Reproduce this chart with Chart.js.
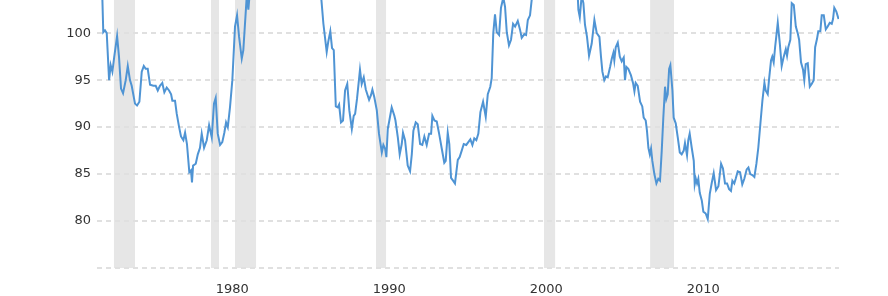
<!DOCTYPE html>
<html>
<head>
<meta charset="utf-8">
<script src="https://cdn.jsdelivr.net/npm/chart.js@4.4.1/dist/chart.umd.min.js"></script>
<style>
  html, body { margin: 0; padding: 0; background: #fff; }
  #wrap { width: 888px; height: 296px; }
</style>
</head>
<body>
<div id="wrap"><canvas id="chart" width="888" height="296"></canvas></div>
<script>
// index values (values above ~103.5 are cut by the top edge)
var years = [
  1971.70, 1971.78, 1971.89, 1972.00, 1972.15, 1972.25, 1972.36, 1972.48, 1972.66, 1972.78,
  1972.91, 1973.04, 1973.21, 1973.34, 1973.48, 1973.59, 1973.80, 1973.93, 1974.08, 1974.23,
  1974.36, 1974.48, 1974.61, 1974.76, 1974.97, 1975.12, 1975.25, 1975.39, 1975.54, 1975.67,
  1975.82, 1975.97, 1976.10, 1976.18, 1976.35, 1976.46, 1976.61, 1976.73, 1976.88, 1976.99,
  1977.11, 1977.26, 1977.37, 1977.43, 1977.50, 1977.67, 1977.80, 1977.94, 1978.05, 1978.20,
  1978.37, 1978.52, 1978.69, 1978.83, 1978.94, 1979.07, 1979.22, 1979.36, 1979.49, 1979.60,
  1979.71, 1979.85, 1980.00, 1980.17, 1980.30, 1980.43, 1980.60, 1980.70, 1980.92, 1981.02,
  1981.12, 1982.00, 1983.50, 1985.00, 1985.65, 1985.80, 1986.01, 1986.11, 1986.24, 1986.35,
  1986.46, 1986.59, 1986.71, 1986.80, 1986.92, 1987.05, 1987.18, 1987.32, 1987.45, 1987.61,
  1987.73, 1987.82, 1987.94, 1988.13, 1988.24, 1988.37, 1988.50, 1988.71, 1988.83, 1988.92,
  1989.04, 1989.20, 1989.34, 1989.52, 1989.62, 1989.73, 1989.81, 1989.90, 1990.00, 1990.15,
  1990.32, 1990.39, 1990.54, 1990.66, 1990.79, 1990.87, 1991.00, 1991.17, 1991.32, 1991.43,
  1991.53, 1991.68, 1991.81, 1991.96, 1992.10, 1992.23, 1992.38, 1992.53, 1992.66, 1992.74,
  1992.87, 1993.02, 1993.17, 1993.34, 1993.50, 1993.59, 1993.72, 1993.82, 1993.93, 1994.06,
  1994.18, 1994.36, 1994.48, 1994.61, 1994.74, 1994.90, 1995.03, 1995.16, 1995.29, 1995.41,
  1995.54, 1995.67, 1995.80, 1995.97, 1996.14, 1996.27, 1996.43, 1996.52, 1996.62, 1996.73,
  1996.84, 1996.99, 1997.11, 1997.26, 1997.37, 1997.48, 1997.62, 1997.75, 1997.88, 1998.01,
  1998.18, 1998.32, 1998.43, 1998.60, 1998.71, 1998.82, 1998.96, 1999.07, 1999.60, 2000.50,
  2001.50, 2002.00, 2002.04, 2002.13, 2002.25, 2002.36, 2002.46, 2002.59, 2002.72, 2002.89,
  2003.06, 2003.21, 2003.38, 2003.48, 2003.57, 2003.69, 2003.80, 2003.91, 2004.06, 2004.17,
  2004.27, 2004.33, 2004.42, 2004.55, 2004.68, 2004.80, 2004.93, 2005.01, 2005.10, 2005.22,
  2005.39, 2005.52, 2005.61, 2005.69, 2005.82, 2005.97, 2006.11, 2006.20, 2006.33, 2006.41,
  2006.50, 2006.59, 2006.67, 2006.75, 2006.88, 2007.01, 2007.13, 2007.24, 2007.35, 2007.45,
  2007.56, 2007.64, 2007.73, 2007.82, 2007.90, 2008.03, 2008.11, 2008.24, 2008.37, 2008.50,
  2008.62, 2008.75, 2008.83, 2008.96, 2009.04, 2009.13, 2009.26, 2009.39, 2009.45, 2009.52,
  2009.60, 2009.68, 2009.77, 2009.90, 2010.00, 2010.15, 2010.28, 2010.41, 2010.54, 2010.66,
  2010.81, 2010.96, 2011.13, 2011.25, 2011.38, 2011.51, 2011.64, 2011.76, 2011.85, 2011.97,
  2012.06, 2012.19, 2012.34, 2012.48, 2012.61, 2012.76, 2012.87, 2012.99, 2013.12, 2013.25,
  2013.38, 2013.50, 2013.63, 2013.76, 2013.89, 2013.97, 2014.10, 2014.18, 2014.31, 2014.39,
  2014.48, 2014.57, 2014.65, 2014.74, 2014.87, 2014.99, 2015.12, 2015.25, 2015.33, 2015.41,
  2015.54, 2015.63, 2015.76, 2015.89, 2016.01, 2016.10, 2016.22, 2016.35, 2016.43, 2016.52,
  2016.65, 2016.78, 2016.90, 2017.03, 2017.12, 2017.24, 2017.32, 2017.45, 2017.54, 2017.67,
  2017.80, 2017.92, 2018.05, 2018.18, 2018.26, 2018.34, 2018.47, 2018.61
];
var values = [
  105.0, 100.1, 100.3, 100.0, 95.0, 96.6, 95.9, 97.5, 99.7, 97.5,
  94.1, 93.6, 95.0, 96.5, 95.0, 94.4, 92.5, 92.3, 92.7, 95.9,
  96.5, 96.2, 96.2, 94.5, 94.4, 94.4, 93.9, 94.4, 94.7, 93.7,
  94.2, 93.9, 93.5, 92.8, 92.8, 91.4, 90.0, 89.0, 88.6, 89.4,
  88.2, 85.2, 85.4, 84.1, 85.9, 86.1, 87.1, 87.8, 89.3, 87.8,
  88.6, 90.2, 88.9, 92.5, 93.1, 89.3, 88.1, 88.4, 89.4, 90.5,
  90.0, 92.1, 95.0, 100.7, 101.9, 99.6, 97.3, 98.2, 104.0, 102.5,
  104.5, 110.0, 114.0, 112.0, 104.0, 101.0, 98.0, 99.1, 100.2, 98.4,
  98.2, 92.2, 92.1, 92.4, 90.5, 90.7, 93.9, 94.6, 91.8, 89.8,
  91.2, 91.4, 93.0, 96.1, 94.6, 95.3, 94.0, 92.9, 93.4, 94.0,
  93.2, 91.8, 89.3, 87.3, 88.1, 87.7, 86.8, 89.8, 90.7, 92.1,
  91.2, 90.7, 88.9, 87.1, 88.2, 89.4, 88.6, 85.9, 85.3, 87.1,
  89.6, 90.5, 90.3, 88.2, 88.1, 89.0, 88.1, 89.3, 89.3, 91.2,
  90.7, 90.6, 89.3, 87.7, 86.2, 86.4, 89.4, 88.2, 84.6, 84.3,
  84.0, 86.5, 86.8, 87.5, 88.2, 88.1, 88.4, 88.7, 88.1, 88.8,
  88.6, 89.3, 91.6, 92.7, 91.1, 93.5, 94.3, 95.2, 100.0, 102.0,
  100.1, 99.8, 102.7, 103.8, 102.8, 100.1, 98.7, 99.3, 101.0, 100.7,
  101.3, 100.4, 99.5, 99.9, 99.8, 101.4, 101.9, 103.6, 107.0, 110.0,
  108.0, 104.0, 102.5, 101.7, 104.0, 103.2, 100.9, 99.6, 97.6, 98.9,
  101.4, 100.0, 99.6, 97.5, 95.9, 95.0, 95.4, 95.3, 96.4, 97.3,
  97.9, 97.1, 98.5, 99.0, 97.5, 97.0, 97.4, 95.0, 96.4, 96.2,
  95.5, 94.7, 93.8, 94.7, 94.4, 92.7, 92.2, 91.0, 90.7, 89.6,
  87.8, 87.1, 87.7, 86.4, 85.0, 84.0, 84.5, 84.3, 87.5, 91.0,
  94.3, 93.0, 93.5, 96.2, 96.6, 93.9, 91.0, 90.4, 88.9, 87.3,
  87.1, 87.5, 88.3, 87.0, 88.6, 89.3, 87.8, 86.4, 83.9, 84.5,
  84.0, 84.5, 83.0, 82.2, 81.0, 80.8, 80.2, 82.9, 84.1, 85.1,
  83.3, 83.7, 86.1, 85.6, 84.0, 84.0, 83.4, 83.2, 84.3, 84.0,
  84.5, 85.3, 85.2, 83.9, 84.5, 85.5, 85.7, 85.0, 84.9, 84.7,
  86.1, 87.8, 90.3, 92.8, 94.7, 93.9, 93.5, 95.0, 97.1, 97.5,
  96.9, 98.5, 99.7, 101.1, 98.9, 96.5, 97.5, 98.3, 97.6, 98.5,
  99.3, 103.2, 103.0, 100.7, 100.0, 99.3, 96.9, 96.1, 95.0, 96.7,
  96.8, 94.3, 94.6, 95.0, 98.5, 99.4, 100.2, 100.2, 101.9, 101.9,
  100.4, 100.7, 101.1, 101.0, 101.5, 102.7, 102.3, 101.5
];
// shaded periods as drawn
var bandStart = [1972.46, 1978.64, 1980.17, 1989.15, 1999.85, 2006.61];
var bandEnd   = [1973.80, 1979.15, 1981.51, 1989.79, 2000.56, 2008.13];
var xTicks = [1980, 1990, 2000, 2010];
var yTicks = [75, 80, 85, 90, 95, 100];

var points = [];
for (var i = 0; i < years.length; i++) {
  points.push({ x: years[i], y: values[i] });
}

var bands = {
  id: 'bands',
  beforeDraw: function(chart) {
    var ctx = chart.ctx, a = chart.chartArea, xs = chart.scales.x;
    ctx.save();
    ctx.fillStyle = '#e6e6e6';
    for (var i = 0; i < bandStart.length; i++) {
      var x0 = xs.getPixelForValue(bandStart[i]);
      var x1 = xs.getPixelForValue(bandEnd[i]);
      ctx.fillRect(x0, a.top, x1 - x0, a.bottom - a.top);
    }
    ctx.restore();
  }
};

var ctx = document.getElementById('chart');
new Chart(ctx, {
  type: 'line',
  data: {
    datasets: [{
      data: points,
      borderColor: '#4f94d4',
      borderWidth: 2,
      pointRadius: 0,
      tension: 0,
      fill: false
    }]
  },
  options: {
    responsive: false,
    animation: false,
    layout: { padding: { left: 0, top: 0, bottom: 0, right: 49 } },
    plugins: { legend: { display: false }, tooltip: { enabled: false } },
    scales: {
      x: {
        type: 'linear',
        min: 1971.38,
        max: 2018.64,
        border: { display: false },
        grid: { display: false, drawTicks: false },
        afterBuildTicks: function(s) { s.ticks = xTicks.map(function(v) { return { value: v }; }); },
        afterFit: function(s) { s.height = 28; s.paddingLeft = 0; s.paddingRight = 0; },
        ticks: {
          padding: 14,
          maxRotation: 0,
          color: '#333',
          font: { family: 'DejaVu Sans', size: 13 },
          callback: function(v) { return String(v); }
        }
      },
      y: {
        min: 75,
        max: 103.53,
        border: { display: false, dash: [5, 4] },
        grid: { color: '#e0e0e0', lineWidth: 2, drawTicks: false },
        afterBuildTicks: function(s) { s.ticks = yTicks.map(function(v) { return { value: v }; }); },
        afterFit: function(s) { s.width = 97; s.paddingTop = 0; s.paddingBottom = 0; },
        ticks: {
          padding: 6,
          color: '#333',
          font: { family: 'DejaVu Sans', size: 13 },
          callback: function(v) { return v === 75 ? '' : String(v); }
        }
      }
    }
  },
  plugins: [bands]
});
</script>
</body>
</html>
